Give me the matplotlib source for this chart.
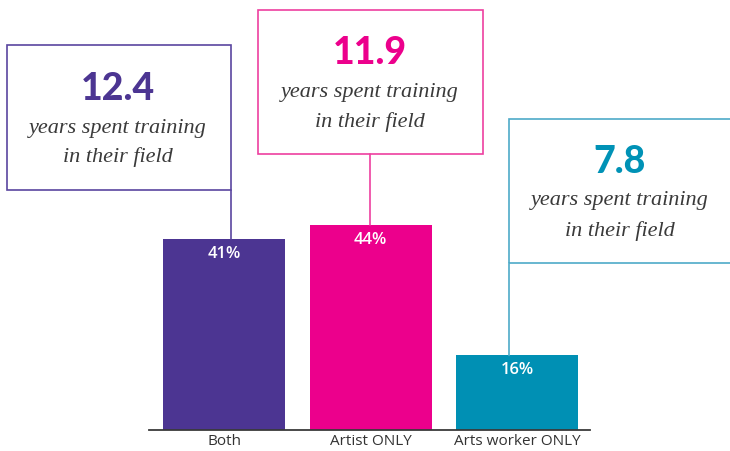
import matplotlib
matplotlib.use("Agg")
import matplotlib.pyplot as plt
import matplotlib.transforms as mtransforms
from matplotlib.patches import Rectangle, ConnectionPatch

categories = ["Both", "Artist ONLY", "Arts worker ONLY"]
shares = [41, 44, 16]
share_labels = ["41%", "44%", "16%"]
years = ["12.4", "11.9", "7.8"]
caption = "years spent training\nin their field"

bar_colors = ["#4c3592", "#ec008c", "#0090b4"]
box_edge = ["#5a46a0", "#ee3fa0", "#4eaac8"]
num_colors = ["#4c3592", "#ec008c", "#0092b6"]

W, H = 730, 451
fig = plt.figure(figsize=(W / 100, H / 100), dpi=100)
fig.patch.set_facecolor("white")

# axes: baseline at y=430px from top, x from 149 to 590 px
ax = fig.add_axes([149 / W, 21 / H, (590 - 149) / W, 430 / H])
ax.set_xlim(-0.512, 2.498)
ax.set_ylim(0, 430 / 4.66)
xs = list(range(len(categories)))
bars = ax.bar(xs, shares, width=0.833, color=bar_colors, zorder=2)
for s in ["top", "right", "left"]:
    ax.spines[s].set_visible(False)
ax.spines["bottom"].set_color("#3a3a3a")
ax.spines["bottom"].set_linewidth(1.3)
ax.set_yticks([])
ax.set_xticks(xs)
ax.set_xticklabels(categories, fontsize=11, color="#333333", family="Open Sans")
ax.tick_params(axis="x", length=0, pad=3)
ax.set_facecolor("none")

for x, v, lab in zip(xs, shares, share_labels):
    ax.annotate(lab, (x, v), xytext=(0, -10.5), textcoords="offset points",
                ha="center", va="center", color="white", fontsize=12,
                family="Open Sans", fontweight="semibold")

# pixel transform (x from left, y from top)
pix = mtransforms.Affine2D().scale(1 / W, -1 / H).translate(0, 1) + fig.transFigure
blend = mtransforms.blended_transform_factory(pix, ax.transData)

# box layout: left, top, right, bottom (px); connector x (px); text ys
boxes = [
    dict(l=7, t=45, r=231, b=190, cx=231, tx=118, ny=89, y1=128, y2=157),
    dict(l=258, t=10, r=483, b=154, cx=370, tx=370, ny=53, y1=93, y2=122),
    dict(l=509, t=119, r=734, b=263, cx=509, tx=620, ny=162, y1=201, y2=231),
]

for i, bx in enumerate(boxes):
    rect = Rectangle((bx["l"], bx["b"]), bx["r"] - bx["l"], bx["t"] - bx["b"],
                     transform=pix, fill=False, edgecolor=box_edge[i], lw=1.2,
                     clip_on=False)
    fig.add_artist(rect)
    con = ConnectionPatch(xyA=(bx["cx"], bx["b"]), coordsA=pix,
                          xyB=(bx["cx"], shares[i]), coordsB=blend,
                          color=box_edge[i], lw=1.2)
    fig.add_artist(con)
    fig.text(bx["tx"], bx["ny"], years[i], transform=pix, ha="center", va="center",
             fontsize=27, color=num_colors[i], family="Lato", fontweight="black")
    lines = caption.split("\n")
    fig.text(bx["tx"], bx["y1"], lines[0], transform=pix, ha="center", va="center",
             fontsize=16, color="#3a3a3a", family="Liberation Serif", style="italic")
    fig.text(bx["tx"], bx["y2"], lines[1], transform=pix, ha="center", va="center",
             fontsize=16, color="#3a3a3a", family="Liberation Serif", style="italic")

fig.savefig("out.png", dpi=100, facecolor="white")
